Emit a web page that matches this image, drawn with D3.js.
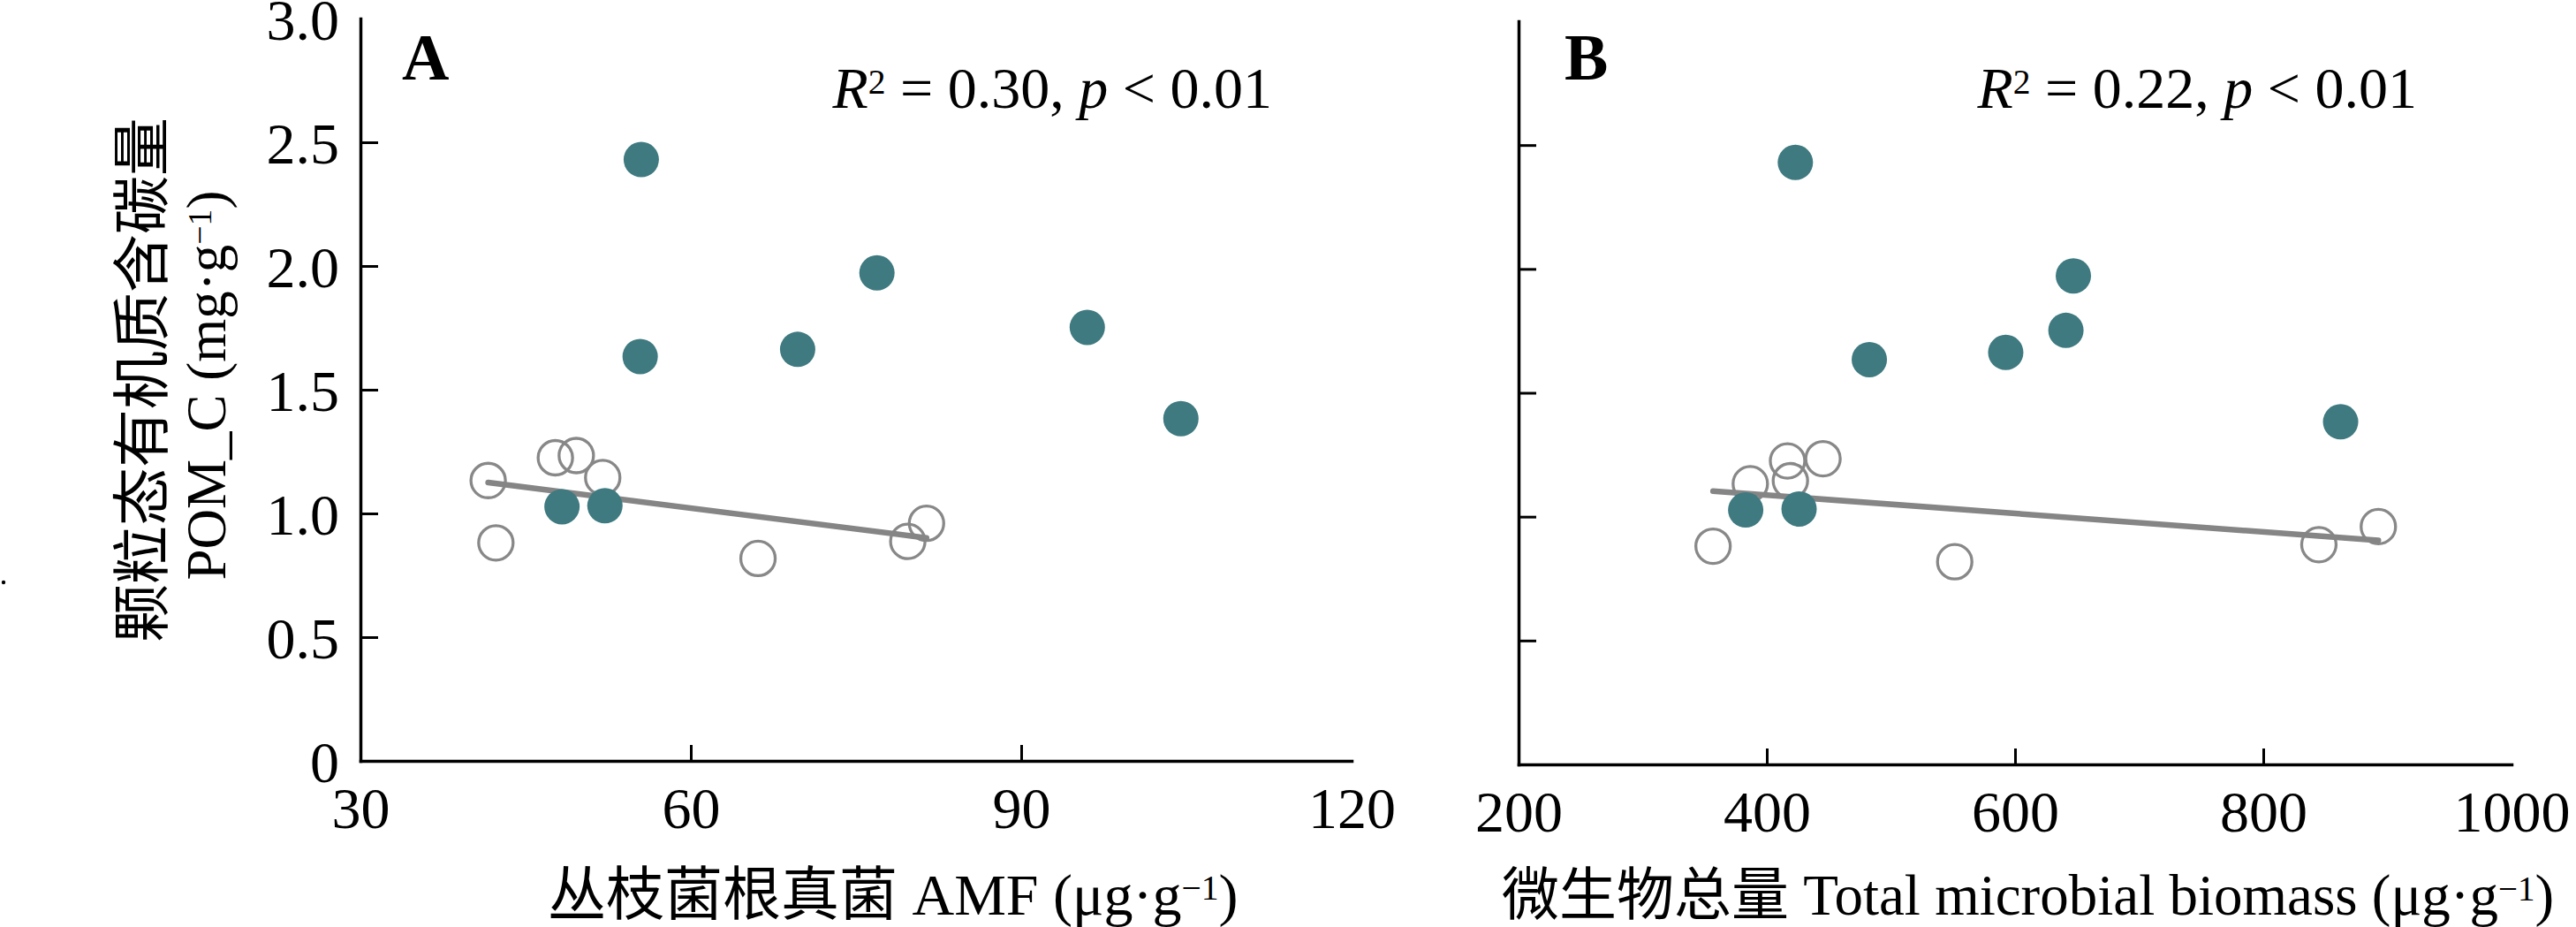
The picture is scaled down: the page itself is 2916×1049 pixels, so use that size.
<!DOCTYPE html>
<html>
<head>
<meta charset="utf-8">
<script src="https://cdn.jsdelivr.net/npm/d3@7"></script>
<style>
  body { margin: 0; background: #fff; }
  text { font-family: "Liberation Serif", "Noto Sans CJK SC", serif; fill: #000; }
</style>
</head>
<body>
<script>
// POM_C values, shared by both panels (same soil samples)
const pomFilled = [2.43, 1.972, 1.752, 1.663, 1.634, 1.383, 1.027, 1.031];
const pomOpen = [1.133, 0.881, 1.225, 1.234, 1.145, 0.818, 0.887, 0.96];

// panel A: AMF (ug/g)
const amfFilled = [55.5, 76.9, 96.0, 69.7, 55.4, 104.5, 48.3, 52.2];
const amfOpen = [41.6, 42.3, 47.7, 49.6, 52.0, 66.1, 79.7, 81.4];

// panel B: total microbial biomass (ug/g)
const biomassFilled = [423, 647, 641, 592.5, 482.6, 862.3, 383, 426];
const biomassOpen = [386.7, 356.7, 416.7, 445.3, 419.0, 551.4, 844.8, 892.7];

const yTicks = [0, 0.5, 1.0, 1.5, 2.0, 2.5, 3.0];
const amfTicks = [30, 60, 90, 120];
const biomassTicks = [200, 400, 600, 800, 1000];

const statsA = { r2: "0.30", p: "0.01" };
const statsB = { r2: "0.22", p: "0.01" };

const teal = "#3e7a80";
const grey = "#888888";

let svg = d3.select("body").append("svg")
  .attr("width", 2916)
  .attr("height", 1049);

// least squares fit, for the line through the open points
function fit(xs, ys) {
  let mx = d3.mean(xs), my = d3.mean(ys);
  let sxy = d3.sum(xs, (x, i) => (x - mx) * (ys[i] - my));
  let sxx = d3.sum(xs, x => (x - mx) * (x - mx));
  let slope = sxy / sxx;
  return x => my + slope * (x - mx);
}

function addUnit(text, before) {
  text.append("tspan").text(before);
  text.append("tspan").attr("dy", "-0.42em").attr("font-size", "0.6em").text("\u22121");
  text.append("tspan").attr("dy", "0.25em").text(")");
}

function panel(p) {
  let x = d3.scaleLinear().domain(p.xDomain).range(p.xRange);
  let y = d3.scaleLinear().domain([0, 3]).range(p.yRange);
  let g = svg.append("g");

  let yAxis = d3.axisLeft(y)
    .tickValues(yTicks)
    .tickSizeInner(-20)
    .tickSizeOuter(0)
    .tickPadding(24)
    .tickFormat(p.yLabels ? (d => d === 0 ? "0" : d3.format(".1f")(d)) : "");

  let xAxis = d3.axisBottom(x)
    .tickValues(p.xTicks)
    .tickSizeInner(-18)
    .tickSizeOuter(0)
    .tickPadding(29)
    .tickFormat(d3.format("d"));

  let gy = g.append("g")
    .attr("transform", "translate(" + p.xRange[0] + ",0)")
    .call(yAxis);
  let gx = g.append("g")
    .attr("transform", "translate(0," + p.yRange[0] + ")")
    .call(xAxis);

  for (const ax of [gx, gy]) {
    ax.attr("font-family", null).attr("font-size", null);
    ax.select(".domain").attr("stroke", "#000").attr("stroke-width", 3.5).attr("stroke-linecap", "square");
    ax.selectAll(".tick line").attr("stroke", "#000").attr("stroke-width", 3);
    ax.selectAll(".tick text").attr("font-size", 66);
  }
  gy.selectAll(".tick text").attr("dy", "0.36em");
  // no tick marks at the ends of the axes
  gy.selectAll(".tick line").filter(d => d === 0 || d === 3).remove();
  gx.selectAll(".tick line").filter(d => d === p.xDomain[0] || d === p.xDomain[1]).remove();

  // open points + fitted line, then the filled ones on top
  g.append("g").selectAll("circle")
    .data(p.openX.map((v, i) => [v, pomOpen[i]]))
    .join("circle")
    .attr("cx", d => x(d[0]))
    .attr("cy", d => y(d[1]))
    .attr("r", 19.5)
    .attr("fill", "none")
    .attr("stroke", grey)
    .attr("stroke-width", 3.3);

  let f = fit(p.openX, pomOpen);
  let ext = d3.extent(p.openX);
  g.append("line")
    .attr("x1", x(ext[0])).attr("y1", y(f(ext[0])))
    .attr("x2", x(ext[1])).attr("y2", y(f(ext[1])))
    .attr("stroke", "#858585")
    .attr("stroke-width", 6.5)
    .attr("stroke-linecap", "round");

  g.append("g").selectAll("circle")
    .data(p.filledX.map((v, i) => [v, pomFilled[i]]))
    .join("circle")
    .attr("cx", d => x(d[0]))
    .attr("cy", d => y(d[1]))
    .attr("r", 20)
    .attr("fill", teal);

  g.append("text")
    .attr("x", p.labelX)
    .attr("y", 90)
    .attr("font-size", 74)
    .attr("font-weight", "bold")
    .text(p.label);

  let st = g.append("text")
    .attr("x", p.statsX)
    .attr("y", 122)
    .attr("font-size", 66)
    .attr("text-anchor", "end");
  st.append("tspan").attr("font-style", "italic").text("R");
  st.append("tspan").attr("dy", "-0.4em").attr("font-size", "0.6em").text("2");
  st.append("tspan").attr("dy", "0.24em").text(" = " + p.stats.r2 + ", ");
  st.append("tspan").attr("font-style", "italic").text("p");
  st.append("tspan").text(" < " + p.stats.p);

  let xt = g.append("text")
    .attr("x", p.titleX)
    .attr("y", 1035)
    .attr("font-size", p.titleSize);
  addUnit(xt, p.title);
}

panel({
  xDomain: [30, 120], xRange: [408, 1530], yRange: [861, 21],
  xTicks: amfTicks, yLabels: true,
  filledX: amfFilled, openX: amfOpen,
  label: "A", labelX: 455, stats: statsA, statsX: 1440,
  title: "丛枝菌根真菌 AMF (μg·g", titleX: 620, titleSize: 66
});

panel({
  xDomain: [200, 1000], xRange: [1719, 2843], yRange: [865, 24],
  xTicks: biomassTicks, yLabels: false,
  filledX: biomassFilled, openX: biomassOpen,
  label: "B", labelX: 1771, stats: statsB, statsX: 2736,
  title: "微生物总量 Total microbial biomass (μg·g", titleX: 1700, titleSize: 65
});

// y axis title, two rotated lines
svg.append("text")
  .attr("transform", "translate(184,430) rotate(-90)")
  .attr("text-anchor", "middle")
  .attr("font-size", 66)
  .text("颗粒态有机质含碳量");

let yt = svg.append("text")
  .attr("transform", "translate(255,436) rotate(-90)")
  .attr("text-anchor", "middle")
  .attr("font-size", 63);
addUnit(yt, "POM_C (mg·g");

// stray dot at the left edge of the source figure
svg.append("circle").attr("cx", 4).attr("cy", 659).attr("r", 2.2).attr("fill", "#000");
</script>
</body>
</html>
